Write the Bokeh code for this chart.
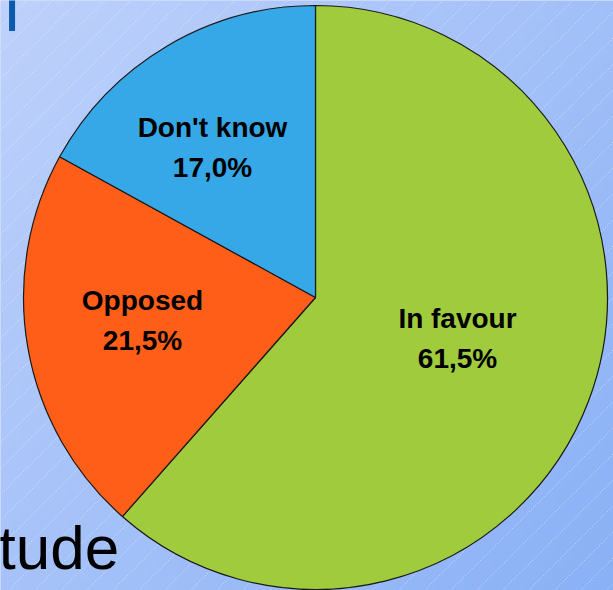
import numpy as np
from bokeh.plotting import figure
from bokeh.models import Range1d, ColumnDataSource
from bokeh.core.properties import value
from bokeh.embed import file_html
from bokeh.resources import INLINE

W, H = 613, 590

categories = ["In favour", "Opposed", "Don't know"]
shares = [61.5, 21.5, 17.0]
share_labels = ["61,5%", "21,5%", "17,0%"]
colors = ["#9fcb3c", "#ff5e18", "#37a8e7"]

# label anchor positions (screen px, layout only)
label_x = [457, 142, 212]
label_y = [318, 300, 127]

p = figure(width=W, height=H, x_range=Range1d(0, W), y_range=Range1d(0, H),
           output_backend="svg", toolbar_location=None, min_border=0)
p.axis.visible = False
p.grid.visible = False
p.outline_line_color = None
p.background_fill_color = "#a8c4f9"
p.border_fill_color = "#a8c4f9"

# background gradient (light at top-left, darker at bottom-right)
ny, nx = 59, 62
yy, xx = np.mgrid[0:ny, 0:nx]
c_light = np.array([190, 209, 251])
c_dark = np.array([138, 177, 246])
tt = (xx / (nx - 1)) * 0.55 + (1 - yy / (ny - 1)) * 0.45
img = np.empty((ny, nx), dtype=np.uint32)
view = img.view(dtype=np.uint8).reshape((ny, nx, 4))
for k in range(3):
    view[:, :, k] = (c_light[k] + (c_dark[k] - c_light[k]) * tt).astype(np.uint8)
view[:, :, 3] = 255
p.image_rgba(image=[img], x=0, y=0, dw=W, dh=H)

# diagonal dotted lines
step = 26
offs = np.arange(-H, W + H, step)
p.segment(x0=offs, y0=np.zeros_like(offs), x1=offs + H, y1=np.full_like(offs, H),
          line_color="white", line_alpha=0.6, line_width=1, line_dash="1 2")

# pie
cx, cy, r = 315, H - 297, 292
fr = np.array(shares) / sum(shares)
cum = np.concatenate([[0], np.cumsum(fr)])
start = np.pi / 2 - 2 * np.pi * cum[:-1]
end = np.pi / 2 - 2 * np.pi * cum[1:]
src = ColumnDataSource(dict(start=start, end=end, color=colors, cat=categories))
p.wedge(x=cx, y=cy, radius=r, start_angle="start", end_angle="end", direction="clock",
        fill_color="color", line_color="#1a1a1a", line_width=1.2, source=src)

# labels
lx = np.array(label_x)
ly = H - np.array(label_y)
p.text(x=lx, y=ly, text=categories, text_font=value("Liberation Sans"), text_font_style="bold",
       text_font_size="28px", text_align="center", text_baseline="middle", text_color="black")
p.text(x=lx, y=ly - 40, text=share_labels, text_font=value("Liberation Sans"), text_font_style="bold",
       text_font_size="28px", text_align="center", text_baseline="middle", text_color="black")

# partial slide texts
p.text(x=[-2], y=[H - 547], text=["tude"], text_font=value("Liberation Sans"),
       text_font_size="62px", text_align="left", text_baseline="alphabetic", text_color="black")
p.text(x=[4], y=[H - 6], text=["l"], text_font=value("Liberation Sans"),
       text_font_size="68px", text_align="left", text_baseline="alphabetic", text_color="#0b5aab")

open("out.html", "w").write(file_html(p, INLINE))
